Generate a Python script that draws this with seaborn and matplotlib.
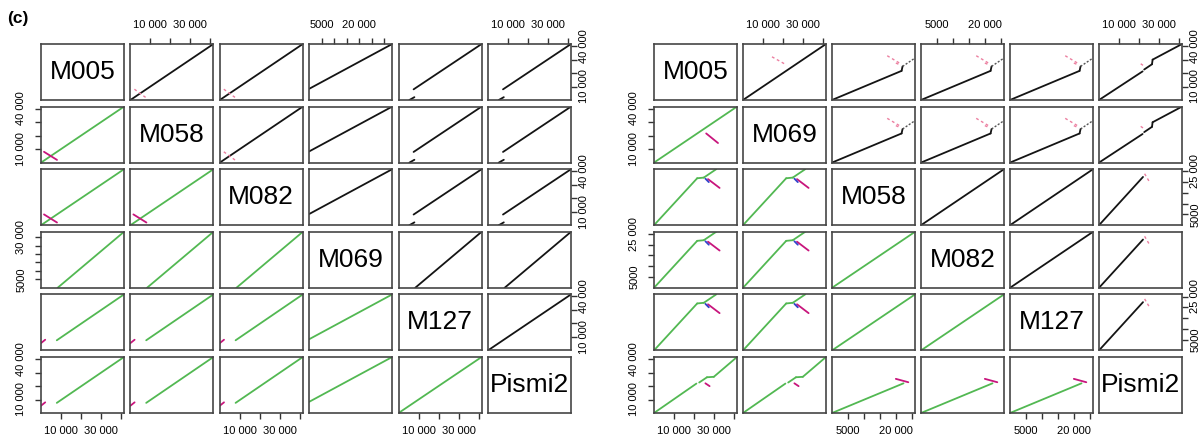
import matplotlib
matplotlib.use("Agg")
import pandas as pd
import matplotlib.pyplot as plt
import seaborn as sns

# genome order and lengths (bp) for the two dot-plot matrices
LEFT_NAMES = ["M005", "M058", "M082", "M069", "M127", "Pismi2"]
LEFT_LEN = [41500, 41500, 41500, 33200, 41500, 41500]
RIGHT_NAMES = ["M005", "M069", "M058", "M082", "M127", "Pismi2"]
RIGHT_LEN = [41500, 41500, 26000, 26000, 26000, 41500]

# aligned segments: x0, y0, x1, y1, kind  (x = column genome, y = row genome)
L_CORE = [(0, 0, 41500, 41500, "fwd"), (2000, 8000, 8000, 1500, "inv")]
L_VS_M069 = [(0, 8300, 33200, 41500, "fwd")]
L_VS_M127 = [(7500, 7900, 41500, 41500, "fwd"), (5400, 0, 7900, 2100, "flip")]
L_M069_M127 = [(8300, 0, 41500, 33200, "fwd")]
L_DIAG = [(0, 0, 41500, 41500, "fwd")]

R_AA = [(0, 0, 41500, 41500, "fwd"), (14500, 32000, 21600, 26100, "inv")]
R_AB = [(0, 0, 21800, 21600, "fwd"), (21800, 21600, 22100, 24900, "fwd"),
        (22100, 24900, 26000, 31100, "weak"),
        (17300, 32800, 21400, 27000, "inv"), (20000, 27400, 21600, 25700, "inv_b")]
R_AP = [(0, 0, 21800, 21200, "fwd"), (22600, 22600, 26500, 26500, "fwd"),
        (26500, 26500, 26800, 29900, "fwd"), (26800, 29900, 41500, 41500, "fwd"),
        (22000, 25700, 19900, 27800, "inv")]
R_BB = [(0, 0, 26000, 26000, "fwd")]
R_BP = [(0, 0, 22000, 22400, "fwd"), (22800, 23900, 25300, 20000, "inv")]

# which pattern belongs to which (row, col) pair of the upper triangle
LEFT_PAIRS = [(0, 1, L_CORE), (0, 2, L_CORE), (1, 2, L_CORE),
              (0, 3, L_VS_M069), (1, 3, L_VS_M069), (2, 3, L_VS_M069),
              (0, 4, L_VS_M127), (0, 5, L_VS_M127), (1, 4, L_VS_M127),
              (1, 5, L_VS_M127), (2, 4, L_VS_M127), (2, 5, L_VS_M127),
              (3, 4, L_M069_M127), (3, 5, L_M069_M127), (4, 5, L_DIAG)]
RIGHT_PAIRS = [(0, 1, R_AA),
               (0, 2, R_AB), (0, 3, R_AB), (0, 4, R_AB),
               (1, 2, R_AB), (1, 3, R_AB), (1, 4, R_AB),
               (0, 5, R_AP), (1, 5, R_AP),
               (2, 3, R_BB), (2, 4, R_BB), (3, 4, R_BB),
               (2, 5, R_BP), (3, 5, R_BP), (4, 5, R_BP)]

# axis ticks per genome length
TICKS = {41500: [10000, 20000, 30000, 40000],
         33200: [5000, 10000, 15000, 20000, 25000, 30000],
         26000: [5000, 10000, 15000, 20000, 25000]}
X_SHOWN = {41500: [10000, 30000], 33200: [5000, 20000], 26000: [5000, 20000]}
Y_SHOWN = {41500: [10000, 40000], 33200: [5000, 30000], 26000: [5000, 25000]}

GREEN = "#52b852"
MAGENTA = "#c8157c"
UPPER_STYLE = {
    "fwd": dict(color="#141414", lw=1.3),
    "flip": dict(color="#141414", lw=1.3),
    "weak": dict(color="#555555", lw=1.0, linestyle=(0, (1.5, 1.2))),
    "inv": dict(color="#ec7fa0", lw=1.0, linestyle=(0, (2, 2))),
    "inv_b": dict(color="#ec7fa0", lw=1.0, linestyle=(0, (2, 2))),
}
LOWER_STYLE = {
    "fwd": dict(color=GREEN, lw=1.3),
    "weak": dict(color=GREEN, lw=1.3),
    "flip": dict(color=MAGENTA, lw=1.3),
    "inv": dict(color=MAGENTA, lw=1.3),
    "inv_b": dict(color="#3344cc", lw=1.3),
}

sns.set_theme(style="white")
plt.rcParams["font.family"] = ["Liberation Sans", "DejaVu Sans"]
plt.rcParams["text.color"] = "black"

W, H = 1203, 440
fig = plt.figure(figsize=(W / 100, H / 100), dpi=100)
TICK_KW = dict(length=4.5, width=1.0, labelsize=8, color="#333333", labelcolor="black")


def fmt(v):
    return f"{v:,}".replace(",", " ") if v >= 10000 else str(v)


def seg_frame(segs, transpose):
    rows = []
    for k, (x0, y0, x1, y1, kind) in enumerate(segs):
        if transpose:
            x0, y0, x1, y1 = y0, x0, y1, x1
        rows.append((x0, y0, k, kind))
        rows.append((x1, y1, k, kind))
    return pd.DataFrame(rows, columns=["x", "y", "seg", "kind"])


def draw_matrix(names, lengths, pairs, x_start, pitch_x):
    n = len(names)
    lookup = {}
    for i, j, segs in pairs:
        lookup[(i, j)] = (segs, False)
        lookup[(j, i)] = (segs, True)
    for r in range(n):
        for c in range(n):
            x = x_start + c * pitch_x
            y_top = 44 + r * 62.6
            ax = fig.add_axes([x / W, 1 - (y_top + 56) / H, 83 / W, 56 / H])
            ax.set_xlim(0, lengths[c])
            ax.set_ylim(0, lengths[r])
            if r == c:
                ax.text(0.5, 0.5, names[r], transform=ax.transAxes,
                        ha="center", va="center", fontsize=19, color="black")
            else:
                segs, tr = lookup[(r, c)]
                df = seg_frame(segs, tr)
                styles = UPPER_STYLE if r < c else LOWER_STYLE
                for kind, sub in df.groupby("kind"):
                    sns.lineplot(data=sub, x="x", y="y", units="seg",
                                 estimator=None, sort=False, legend=False,
                                 ax=ax, **styles[kind])
            ax.set_xlabel("")
            ax.set_ylabel("")
            ax.set_xticks([])
            ax.set_yticks([])
            for sp in ax.spines.values():
                sp.set_color("#454545")
                sp.set_linewidth(1.2)

            # R pairs() style alternating axes
            lx, ly = lengths[c], lengths[r]
            if r == 0 and c % 2 == 1:
                ax.set_xticks(TICKS[lx])
                ax.set_xticklabels([fmt(t) if t in X_SHOWN[lx] else "" for t in TICKS[lx]])
                ax.tick_params(axis="x", top=True, labeltop=True, bottom=False,
                               labelbottom=False, pad=5.5, **TICK_KW)
            if r == n - 1 and c % 2 == 0:
                ax.set_xticks(TICKS[lx])
                ax.set_xticklabels([fmt(t) if t in X_SHOWN[lx] else "" for t in TICKS[lx]])
                ax.tick_params(axis="x", bottom=True, pad=5, **TICK_KW)
            if c == 0 and r % 2 == 1:
                ax.set_yticks(TICKS[ly])
                ax.set_yticklabels([fmt(t) if t in Y_SHOWN[ly] else "" for t in TICKS[ly]],
                                   rotation=90, va="center")
                ax.tick_params(axis="y", left=True, pad=6, **TICK_KW)
            if c == n - 1 and r % 2 == 0:
                ax.set_yticks(TICKS[ly])
                ax.set_yticklabels([fmt(t) if t in Y_SHOWN[ly] else "" for t in TICKS[ly]],
                                   rotation=90, va="center")
                ax.tick_params(axis="y", right=True, labelright=True, left=False,
                               labelleft=False, pad=1.5, **TICK_KW)


draw_matrix(LEFT_NAMES, LEFT_LEN, LEFT_PAIRS, 41, 89.4)
draw_matrix(RIGHT_NAMES, RIGHT_LEN, RIGHT_PAIRS, 654, 89)

fig.text(7 / W, 1 - 11 / H, "(c)", fontsize=12.5, fontweight="bold", va="top")

fig.savefig("out.png", dpi=100, facecolor="white")
